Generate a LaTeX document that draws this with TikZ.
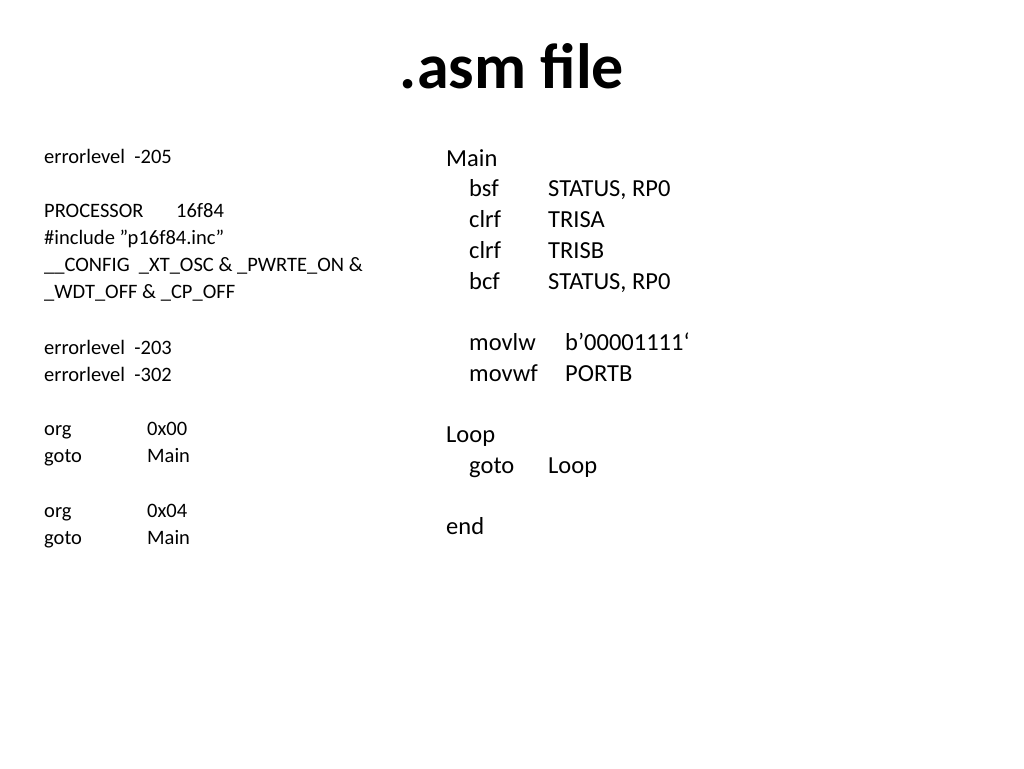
\documentclass[tikz,border=0pt]{standalone}
\usepackage{fontspec}
\setmainfont{Carlito}
\begin{document}
\begin{tikzpicture}[x=1pt,y=-1pt,
  L/.style={anchor=base west,inner sep=0pt,font=\fontsize{20.5}{24}\selectfont},
  R/.style={anchor=base west,inner sep=0pt,font=\fontsize{24.5}{29}\selectfont}]
\useasboundingbox[fill=white] (0,0) rectangle (1024,768);
\node[anchor=base,inner sep=0pt,font=\fontsize{64}{70}\selectfont\bfseries] (title) at (512,88) {.asm file};
% left column
\node[L] (l1) at (44,163) {errorlevel\ \ -205};
\node[L] (l2) at (44,217) {PROCESSOR};
\node[L] (l2b) at (176,217) {16f84};
\node[L] (l3) at (44,244) {\#include "p16f84.inc"};
\node[L] (l4) at (44,271) {\_\_CONFIG\ \ \_XT\_OSC \& \_PWRTE\_ON \&};
\node[L] (l5) at (44,298) {\_WDT\_OFF \& \_CP\_OFF};
\node[L] (l6) at (44,354) {errorlevel\ \ -203};
\node[L] (l7) at (44,381) {errorlevel\ \ -302};
\node[L] (l8) at (44,435) {org};
\node[L] (l8b) at (147,435) {0x00};
\node[L] (l9) at (44,462) {goto};
\node[L] (l9b) at (147,462) {Main};
\node[L] (l10) at (44,517) {org};
\node[L] (l10b) at (147,517) {0x04};
\node[L] (l11) at (44,544) {goto};
\node[L] (l11b) at (147,544) {Main};
% right column
\node[R] (r1) at (446,166) {Main};
\node[R] (r2) at (469,196) {bsf};
\node[R] (r2b) at (548,196) {STATUS, RP0};
\node[R] (r3) at (469,227) {clrf};
\node[R] (r3b) at (548,227) {TRISA};
\node[R] (r4) at (469,258) {clrf};
\node[R] (r4b) at (548,258) {TRISB};
\node[R] (r5) at (469,289) {bcf};
\node[R] (r5b) at (548,289) {STATUS, RP0};
\node[R] (r6) at (469,350) {movlw};
\node[R] (r6b) at (565,350) {b'00001111‘};
\node[R] (r7) at (469,381) {movwf};
\node[R] (r7b) at (565,381) {PORTB};
\node[R] (r8) at (446,442) {Loop};
\node[R] (r9) at (469,473) {goto};
\node[R] (r9b) at (548,473) {Loop};
\node[R] (r10) at (446,534) {end};
\end{tikzpicture}
\end{document}
